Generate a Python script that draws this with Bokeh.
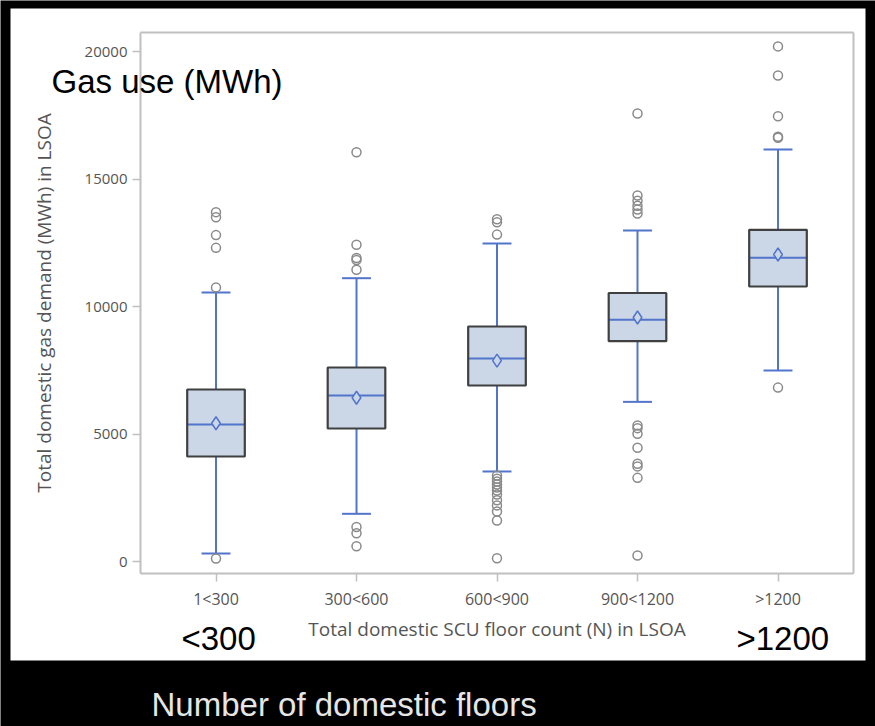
from bokeh.plotting import figure
from bokeh.models import Range1d, FixedTicker, Label, ColumnDataSource, LinearAxis, BoxAnnotation
from bokeh.embed import file_html
from bokeh.resources import INLINE

# ---------------- data ----------------
categories = ["1<300", "300<600", "600<900", "900<1200", ">1200"]
q1 = [4118, 5216, 6902, 8640, 10784]
median = [5373, 6505, 7960, 9480, 11910]
q3 = [6745, 7608, 9216, 10530, 13008]
mean = [5420, 6420, 7880, 9570, 12040]
lower_whisker = [314, 1870, 3530, 6260, 7490]
upper_whisker = [10550, 11110, 12470, 12980, 16160]

outlier_group = (
    ["1<300"] * 6
    + ["300<600"] * 8
    + ["600<900"] * 15
    + ["900<1200"] * 14
    + [">1200"] * 6
)
outlier_value = (
    [13700, 13500, 12800, 12300, 10750, 120]
    + [16050, 12420, 11900, 11820, 11440, 1350, 1110, 600]
    + [13420, 13300, 12820, 3370, 3250, 3140, 3020, 2900, 2780, 2630, 2400, 2200, 1960, 1610, 130]
    + [17570, 14350, 14150, 13950, 13800, 13650, 5330, 5230, 5010, 4460, 3830, 3730, 3280, 235]
    + [20200, 19060, 17460, 16660, 16620, 6820]
)
y_ticks = [0, 5000, 10000, 15000, 20000]

# ---------------- styles / layout ----------------
W, H = 875, 726
BOX_FILL = "#cbd6e7"
BOX_LINE = "#404040"
BLUE = "#5275cc"
OUT_COL = "#8a8a8a"
FRAME = "#c0c0c0"
TXT = "#555555"
BOX_W = 0.41
CAP_W = 0.206

# pixel geometry of the inner chart box (canvas pixels)
BOX_L, BOX_R, BOX_T, BOX_B = 140, 853, 32, 573
X1_PX, X_STEP = 215.5, 140.5       # pixel of first category, pixels per category
Y0_PX, Y_SCALE = 561.0, 0.0255     # pixel of value 0, pixels per unit


def px2x(px):
    return 1 + (px - X1_PX) / X_STEP


def py2y(py):
    return (Y0_PX - py) / Y_SCALE


xpos = [i + 1 for i in range(len(categories))]
pos_of = {c: i + 1 for i, c in enumerate(categories)}

src = ColumnDataSource(dict(
    x=xpos, q1=q1, med=median, q3=q3, mean=mean, lw=lower_whisker, uw=upper_whisker,
    xl=[x - BOX_W / 2 for x in xpos], xr=[x + BOX_W / 2 for x in xpos],
    cl=[x - CAP_W / 2 for x in xpos], cr=[x + CAP_W / 2 for x in xpos],
))
osrc = ColumnDataSource(dict(x=[pos_of[g] for g in outlier_group], y=outlier_value))

p = figure(width=W, height=H, output_backend="svg", toolbar_location=None,
           x_range=Range1d(px2x(0), px2x(W)), y_range=Range1d(py2y(H), py2y(0)),
           min_border=0, min_border_left=0, min_border_right=0,
           min_border_top=0, min_border_bottom=0)
p.background_fill_color = "black"
p.border_fill_color = "black"
p.outline_line_color = None
p.xgrid.visible = False
p.ygrid.visible = False

# white slide panel
p.add_layout(BoxAnnotation(left=px2x(10), right=px2x(865), top=py2y(8), bottom=py2y(660),
                           fill_color="white", fill_alpha=1.0, line_color=None, level="underlay"))

# whiskers
p.segment(x0="x", y0="lw", x1="x", y1="q1", source=src, line_color=BLUE, line_width=2)
p.segment(x0="x", y0="q3", x1="x", y1="uw", source=src, line_color=BLUE, line_width=2)
p.segment(x0="cl", y0="lw", x1="cr", y1="lw", source=src, line_color=BLUE, line_width=2)
p.segment(x0="cl", y0="uw", x1="cr", y1="uw", source=src, line_color=BLUE, line_width=2)
# boxes
p.vbar(x="x", width=BOX_W, top="q3", bottom="q1", source=src, fill_color=BOX_FILL, line_color=None)
p.segment(x0="xl", y0="med", x1="xr", y1="med", source=src, line_color=BLUE, line_width=2)
p.scatter(x="x", y="mean", source=src, marker="diamond", size=13, fill_color=BOX_FILL,
          line_color=BLUE, line_width=1.5)
p.vbar(x="x", width=BOX_W, top="q3", bottom="q1", source=src, fill_color=None,
       line_color=BOX_LINE, line_width=2.2)
# outliers
p.scatter(x="x", y="y", source=osrc, marker="circle", size=9, fill_color=None,
          line_color=OUT_COL, line_width=1.5)

# axes drawn at the inner chart box edges
xb = (px2x(BOX_L), px2x(BOX_R))
yb = (py2y(BOX_B), py2y(BOX_T))

p.xaxis.ticker = FixedTicker(ticks=xpos)
p.xaxis.major_label_overrides = {x: c for x, c in zip(xpos, categories)}
p.yaxis.ticker = FixedTicker(ticks=y_ticks)
p.xaxis.fixed_location = yb[0]
p.yaxis.fixed_location = xb[0]
p.xaxis.bounds = xb
p.yaxis.bounds = yb
for ax in (p.xaxis[0], p.yaxis[0]):
    ax.axis_line_color = FRAME
    ax.axis_line_width = 2
    ax.major_tick_line_color = FRAME
    ax.major_tick_line_width = 1.5
    ax.major_tick_in = 0
    ax.major_tick_out = 8
    ax.minor_tick_line_color = None
    ax.major_label_text_font = "Open Sans"
    ax.major_label_text_color = TXT
    ax.axis_label_text_font = "Open Sans"
    ax.axis_label_text_font_size = "19px"
    ax.axis_label_text_font_style = "normal"
    ax.axis_label_text_color = TXT
p.xaxis.major_label_text_font_size = "16px"
p.yaxis.major_label_text_font_size = "15px"
p.xaxis.axis_label = "Total domestic SCU floor count (N) in LSOA"
p.yaxis.axis_label = "Total domestic gas demand (MWh) in LSOA"
p.xaxis.major_label_standoff = 6
p.xaxis.axis_label_standoff = 3
p.yaxis.major_label_standoff = 5
p.yaxis.axis_label_standoff = 25

# top and right edges of the chart box
top_ax = LinearAxis(ticker=FixedTicker(ticks=[]), axis_line_color=FRAME, axis_line_width=2,
                    major_tick_line_color=None, minor_tick_line_color=None,
                    major_label_text_color=None, fixed_location=yb[1], bounds=xb)
right_ax = LinearAxis(ticker=FixedTicker(ticks=[]), axis_line_color=FRAME, axis_line_width=2,
                      major_tick_line_color=None, minor_tick_line_color=None,
                      major_label_text_color=None, fixed_location=xb[1], bounds=yb)
p.add_layout(top_ax, "above")
p.add_layout(right_ax, "right")

# overlay slide texts (screen units from the canvas bottom-left; y = text middle)
for txt, sx, mid_py, col in [("Gas use (MWh)", 51, 81, "black"),
                             ("<300", 181, 638, "black"),
                             (">1200", 736, 638, "black"),
                             ("Number of domestic floors", 151, 704, "#e6e6e6")]:
    p.add_layout(Label(x=sx, y=H - mid_py, x_units="screen", y_units="screen", text=txt,
                       text_font="Liberation Sans", text_font_size="33px",
                       text_color=col, text_baseline="middle"))

open("out.html", "w").write(file_html(p, INLINE))
